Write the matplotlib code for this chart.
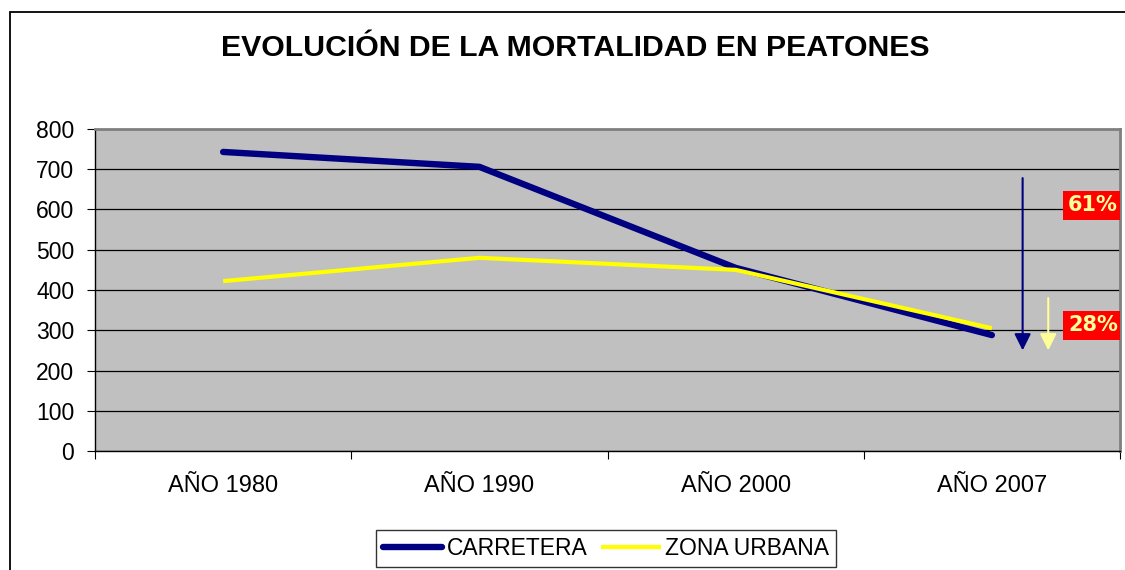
import matplotlib
matplotlib.use("Agg")
import matplotlib.pyplot as plt
from matplotlib.patches import Rectangle

categories = ["AÑO 1980", "AÑO 1990", "AÑO 2000", "AÑO 2007"]
carretera = [743, 706, 455, 288]
zona_urbana = [422, 480, 450, 305]
yticks = [0, 100, 200, 300, 400, 500, 600, 700, 800]
reduction_labels = ["61%", "28%"]

plt.rcParams['font.family'] = ['Liberation Sans', 'DejaVu Sans']

fig = plt.figure(figsize=(11.25, 5.7), dpi=100)
ax = fig.add_axes([95/1125, 1-451/570, (1120-95)/1125, (451-129)/570])
ax.set_facecolor('#C0C0C0')

x = list(range(len(categories)))
ax.plot(x, carretera, color='#000080', lw=4.6, solid_capstyle='round', solid_joinstyle='round', label='CARRETERA', zorder=3)
ax.plot(x, zona_urbana, color='#FFFF00', lw=3.0, solid_capstyle='butt', solid_joinstyle='round', label='ZONA URBANA', zorder=4)

ax.set_xlim(-0.5, len(categories) - 0.5)
ax.set_ylim(0, 800)
ax.set_yticks(yticks)
ax.yaxis.grid(True, color='black', lw=0.9)
ax.set_axisbelow(True)

ax.set_xticks([i - 0.5 for i in range(len(categories) + 1)])
ax.set_xticklabels([])
ax.set_xticks(x, minor=True)
ax.set_xticklabels(categories, minor=True)
ax.tick_params(axis='x', which='minor', length=0, pad=17, labelsize=17)
ax.tick_params(axis='x', which='major', length=6, direction='out', color='black')
ax.tick_params(axis='y', length=6, direction='out', labelsize=16.5, pad=9)

for s in ['top', 'right']:
    ax.spines[s].set_color('#808080')
    ax.spines[s].set_linewidth(2)
for s in ['left', 'bottom']:
    ax.spines[s].set_color('black')
    ax.spines[s].set_linewidth(1)

# reduction arrows
ax.annotate('', xy=(3.12, 250), xytext=(3.12, 678),
            arrowprops=dict(arrowstyle='-|>,head_length=1.0,head_width=0.5', color='#000080', lw=1.5,
                            shrinkA=0, shrinkB=0))
ax.annotate('', xy=(3.22, 250), xytext=(3.22, 380),
            arrowprops=dict(arrowstyle='-|>,head_length=1.0,head_width=0.5', color='#FFFF99', lw=1.5,
                            shrinkA=0, shrinkB=0))

for label, yv in zip(reduction_labels, [610, 312]):
    ax.text(3.297, yv, label, ha='left', va='center', fontsize=15, fontweight='bold',
            color='#FFFF99', family=['DejaVu Sans'], clip_on=True,
            bbox=dict(boxstyle='square,pad=0.22', fc='#FF0000', ec='none'))

fig.text(575/1125, 1-48/570, 'EVOLUCIÓN DE LA MORTALIDAD EN PEATONES', ha='center', va='center',
         fontsize=21.8, fontweight='bold')

leg = fig.legend(loc='upper center', bbox_to_anchor=(606/1125, 1-530/570), ncol=2, fontsize=16.5,
                 frameon=True, fancybox=False, edgecolor='black', handlelength=2.6,
                 columnspacing=0.6, handletextpad=0.2, borderpad=0.3, borderaxespad=0)
leg.get_frame().set_linewidth(1)

fig.patches.append(Rectangle((10/1125, -0.1), 2, 1.1 - 12/570, transform=fig.transFigure,
                             fill=False, ec='black', lw=1.3))

fig.savefig('out.png', dpi=100)
